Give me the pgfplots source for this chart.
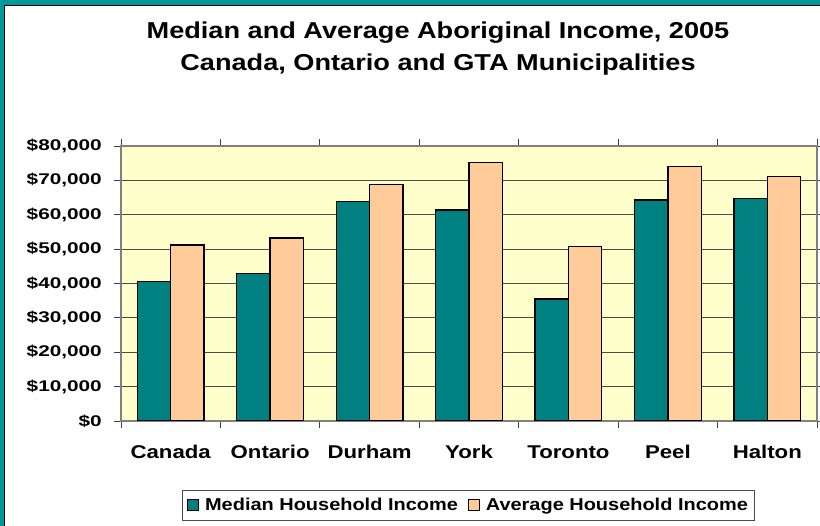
\documentclass[border=0pt]{standalone}
\usepackage{fontspec}
\setmainfont{Liberation Sans}
\newfontfamily\titlefont[FakeStretch=1.18]{Liberation Sans}
\newfontfamily\tickfont[FakeStretch=1.34]{Liberation Sans}
\newfontfamily\catfont[FakeStretch=1.2]{Liberation Sans}
\newfontfamily\legfont[FakeStretch=1.16]{Liberation Sans}
\usepackage{pgfplots}
\pgfplotsset{compat=1.18}

\definecolor{frameteal}{HTML}{009999}
\definecolor{medteal}{HTML}{008080}
\definecolor{avgpeach}{HTML}{FFCC99}
\definecolor{plotbg}{HTML}{FFFFCC}

\begin{document}
\begin{tikzpicture}[x=1pt,y=1pt]
\useasboundingbox (0,0) rectangle (820,526);
\fill[frameteal] (0,0) rectangle (820,526);
\fill[white] (5.3,0) rectangle (820,520);
\draw[line width=1.2pt] (4.6,0) -- (4.6,520.6) -- (820,520.6);

\node[font=\titlefont\bfseries\fontsize{23}{26}\selectfont, anchor=base] at (438,487) {Median and Average Aboriginal Income, 2005};
\node[font=\titlefont\bfseries\fontsize{23}{26}\selectfont, anchor=base] at (438,455) {Canada, Ontario and GTA Municipalities};

\begin{axis}[
  at={(121pt,105pt)}, anchor=south west,
  scale only axis, width=696pt, height=275pt,
  ybar=0pt, bar width=33.4pt,
  xmin=-0.5, xmax=6.5, ymin=0, ymax=80000,
  xtick={0,...,6},
  xticklabels={Canada, Ontario, Durham, York, Toronto, Peel, Halton},
  minor xtick={-0.5,0.5,...,6.5},
  ytick={0,10000,...,80000},
  tick align=outside,
  major tick length=7pt, minor tick length=7pt,
  major x tick style={draw=none},
  tick style={draw=black!75, line width=0.9pt},
  ymajorgrids,
  grid style={draw=black!70, line width=0.9pt},
  axis background/.style={fill=plotbg},
  axis line style={draw=gray, line width=1.3pt},
  scaled y ticks=false,
  /pgf/number format/fixed,
  /pgf/number format/1000 sep={,},
  /pgf/number format/assume math mode=true,
  yticklabel={\$\pgfmathprintnumber{\tick}},
  yticklabel style={font=\tickfont\bfseries\fontsize{15.5}{17}\selectfont, inner xsep=3pt, xshift=-9pt},
  xticklabel style={font=\catfont\bfseries\fontsize{18.5}{20}\selectfont, anchor=north, text height=13.3pt, text depth=4pt, inner ysep=0pt, yshift=-17pt},
  legend image code/.code={\draw[#1, line width=1pt] (0pt,-5.5pt) rectangle (11pt,5.5pt);},
  legend columns=2,
  legend style={at={(0.4993,-0.3055)}, anchor=center, draw=black!70, line width=0.9pt, fill=white,
    font=\legfont\bfseries\fontsize{17.2}{19}\selectfont,
    inner xsep=5pt, inner ysep=6pt,
    /tikz/every odd column/.append style={column sep=4pt},
    /tikz/every even column/.append style={column sep=8pt}},
]
\addplot[fill=medteal, draw=black, line width=1.3pt] coordinates {(0,40500) (1,42900) (2,63900) (3,61400) (4,35500) (5,64300) (6,64800)};
\addplot[fill=avgpeach, draw=black, line width=1.3pt] coordinates {(0,51200) (1,53200) (2,68700) (3,75100) (4,50700) (5,74000) (6,71100)};
\legend{Median Household Income, Average Household Income}
\end{axis}
\end{tikzpicture}
\end{document}
